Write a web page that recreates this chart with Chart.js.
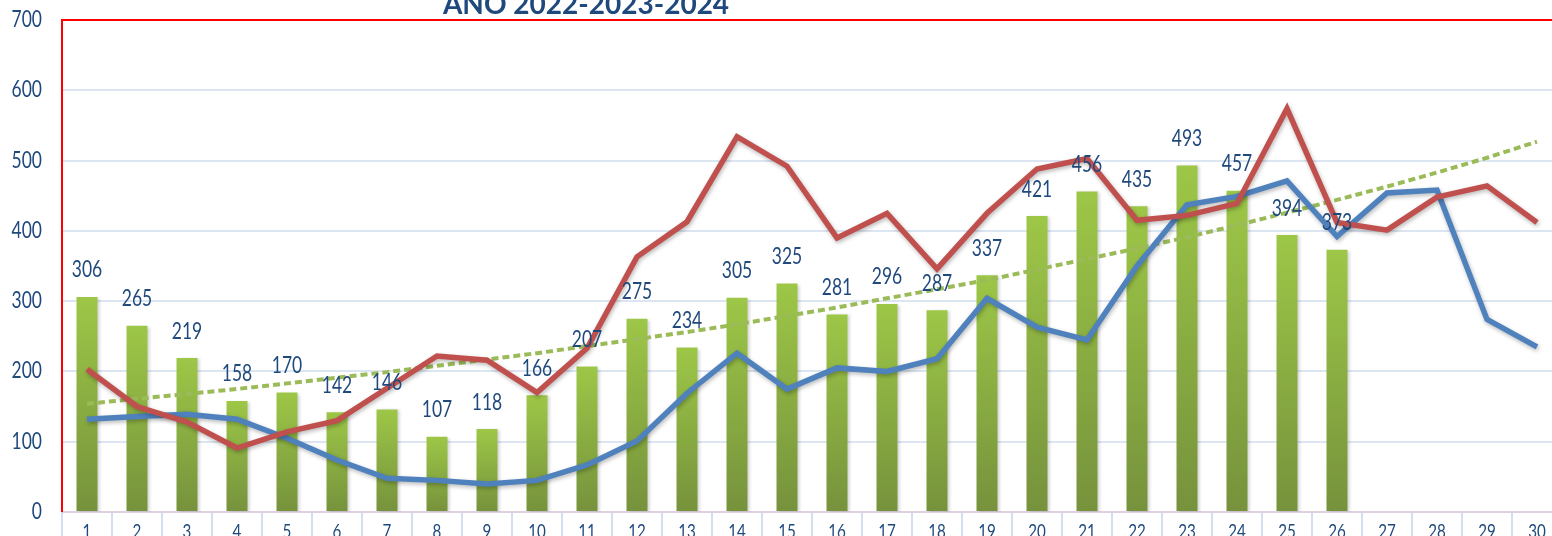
<!DOCTYPE html>
<html>
<head>
<meta charset="utf-8">
<script src="https://cdn.jsdelivr.net/npm/chart.js@4/dist/chart.umd.min.js"></script>
<style>
  html, body { margin: 0; padding: 0; background: #fff; overflow: hidden; }
  #wrap { position: relative; width: 1566px; height: 536px; }
</style>
</head>
<body>
<div id="wrap"><canvas id="chart"></canvas></div>
<script>
const TITLE = 'ANO 2022-2023-2024';

const categories = ['1','2','3','4','5','6','7','8','9','10','11','12','13','14','15',
                    '16','17','18','19','20','21','22','23','24','25','26','27','28','29','30'];

// 2024 (bars)
const bars2024 = [306, 265, 219, 158, 170, 142, 146, 107, 118, 166, 207, 275, 234, 305, 325,
                  281, 296, 287, 337, 421, 456, 435, 493, 457, 394, 373];

// red line
const line2023 = [203, 150, 128, 91, 114, 130, 176, 222, 216, 170, 233, 363, 413, 534, 492,
                  390, 425, 346, 425, 488, 503, 415, 422, 439, 574, 412, 401, 448, 464, 412];

// blue line
const line2022 = [132, 136, 139, 132, 105, 74, 48, 45, 40, 45, 67, 101, 169, 226, 175,
                  205, 200, 218, 304, 263, 245, 350, 437, 449, 471, 392, 454, 458, 274, 235];

// dotted trend line
const trend = [154, 161, 168, 175, 183, 191, 199, 208, 217, 226, 236, 246, 256, 267, 279,
               291, 304, 317, 330, 345, 360, 375, 391, 408, 426, 444, 463, 483, 504, 527];

const FONT = 'Lato, "Open Sans", sans-serif';
const TEXT_BLUE = '#1F497D';
const SQUEEZE = 0.76;   // the original picture is narrowed horizontally

Chart.defaults.font.family = FONT;

function barGradient(c) {
    const chart = c.chart;
    const { ctx, chartArea, scales } = chart;
    if (!chartArea || c.raw == null) return '#8DB445';
    const top = scales.y.getPixelForValue(c.raw);
    const bottom = scales.y.getPixelForValue(0);
    const g = ctx.createLinearGradient(0, top, 0, bottom);
    g.addColorStop(0, '#9DC747');
    g.addColorStop(1, '#76923C');
    return g;
}

function squeezedText(ctx, text, x, y, align, sx) {
    ctx.save();
    ctx.translate(x, y);
    ctx.scale(sx, 1);
    ctx.textAlign = align;
    ctx.textBaseline = 'alphabetic';
    ctx.fillText(text, 0, 0);
    ctx.restore();
}

// soft shadow under lines and bars
const shadowPlugin = {
    id: 'shadow',
    beforeDatasetDraw(chart, args) {
        const ctx = chart.ctx;
        ctx.save();
        if (args.meta.type === 'line' && args.index !== 3) {
            ctx.shadowColor = 'rgba(0,0,0,0.28)';
            ctx.shadowBlur = 4;
            ctx.shadowOffsetX = 1;
            ctx.shadowOffsetY = 2;
        } else if (args.meta.type === 'bar') {
            ctx.shadowColor = 'rgba(0,0,0,0.18)';
            ctx.shadowBlur = 3;
            ctx.shadowOffsetX = 2;
            ctx.shadowOffsetY = 1;
        }
    },
    afterDatasetDraw(chart) {
        chart.ctx.restore();
    }
};

const framePlugin = {
    id: 'frame',
    beforeDatasetsDraw(chart) {
        const { ctx, chartArea } = chart;
        ctx.save();
        ctx.strokeStyle = '#FF0000';
        ctx.lineWidth = 2;
        ctx.beginPath();
        ctx.moveTo(chartArea.left, chartArea.bottom);
        ctx.lineTo(chartArea.left, chartArea.top);
        ctx.lineTo(chartArea.right + 10, chartArea.top);
        ctx.stroke();
        ctx.restore();
    }
};

// axis tick labels drawn narrow, positions from the chart's scales
const axisTextPlugin = {
    id: 'axisText',
    afterDraw(chart) {
        const ctx = chart.ctx;
        const { x, y } = chart.scales;
        ctx.save();
        ctx.fillStyle = TEXT_BLUE;
        ctx.font = '23px ' + FONT;
        y.ticks.forEach((t, i) => {
            squeezedText(ctx, String(t.value), 42, y.getPixelForTick(i) + 7, 'right', SQUEEZE);
        });
        ctx.font = '20px ' + FONT;
        x.ticks.forEach((t, i) => {
            squeezedText(ctx, categories[i], x.getPixelForTick(i), 537.5, 'center', SQUEEZE);
        });
        ctx.restore();
    }
};

const labelsPlugin = {
    id: 'barLabels',
    afterDatasetsDraw(chart) {
        const ctx = chart.ctx;
        const meta = chart.getDatasetMeta(0);
        ctx.save();
        ctx.font = '23px ' + FONT;
        ctx.fillStyle = TEXT_BLUE;
        meta.data.forEach((el, i) => {
            const v = bars2024[i];
            if (v == null) return;
            squeezedText(ctx, String(v), el.x, el.y - 19.5, 'center', SQUEEZE);
        });
        ctx.restore();
    }
};

const titlePlugin = {
    id: 'cutTitle',
    afterDraw(chart) {
        const ctx = chart.ctx;
        ctx.save();
        ctx.font = 'bold 28px ' + FONT;
        ctx.fillStyle = TEXT_BLUE;
        squeezedText(ctx, TITLE, 586, 13.5, 'center', 1);
        ctx.restore();
    }
};

const ctx = document.getElementById('chart').getContext('2d');
new Chart(ctx, {
    type: 'bar',
    data: {
        labels: categories,
        datasets: [{
            type: 'bar',
            label: '2024',
            data: bars2024,
            backgroundColor: barGradient,
            borderWidth: 0,
            barPercentage: 0.42,
            categoryPercentage: 1,
            order: 4
        }, {
            type: 'line',
            label: '2023',
            data: line2023,
            borderColor: '#C0504D',
            borderWidth: 5.5,
            pointRadius: 0,
            tension: 0,
            order: 1
        }, {
            type: 'line',
            label: '2022',
            data: line2022,
            borderColor: '#4F81BD',
            borderWidth: 5.5,
            pointRadius: 0,
            tension: 0,
            order: 2
        }, {
            type: 'line',
            label: 'Tendência',
            data: trend,
            borderColor: '#9BBB59',
            borderWidth: 4,
            borderDash: [7, 4],
            pointRadius: 0,
            tension: 0,
            order: 3
        }]
    },
    options: {
        responsive: true,
        maintainAspectRatio: false,
        animation: false,
        layout: { padding: { top: 20, right: 4, left: 0, bottom: 0 } },
        plugins: {
            legend: { display: false },
            tooltip: { enabled: false }
        },
        scales: {
            x: {
                offset: true,
                grid: {
                    offset: true,
                    drawOnChartArea: false,
                    drawTicks: true,
                    tickLength: 24,
                    color: '#D3DEEF',
                    lineWidth: 2
                },
                border: { display: true, color: '#DDD0DF', width: 2 },
                ticks: { display: false, autoSkip: false, maxRotation: 0 },
                afterFit(scale) { scale.height = 24; }
            },
            y: {
                min: 0,
                max: 700,
                ticks: { stepSize: 100, display: false },
                grid: { color: '#DCE6F2', lineWidth: 2, drawTicks: false },
                border: { display: false },
                afterFit(scale) { scale.width = 62; }
            }
        }
    },
    plugins: [shadowPlugin, framePlugin, axisTextPlugin, labelsPlugin, titlePlugin]
});
</script>
</body>
</html>
